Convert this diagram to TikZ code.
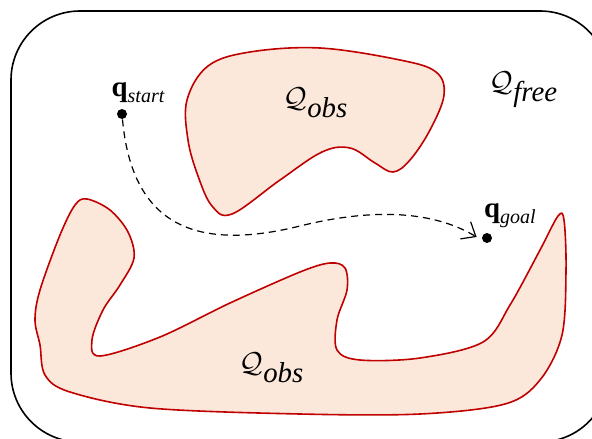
\documentclass[tikz,border=0pt]{standalone}
\usepackage{fontspec}
\setmainfont{Liberation Serif}
\usepackage{xcolor}
\usepackage{tikz}
\usetikzlibrary{arrows.meta, calc}

\definecolor{obsfill}{HTML}{FBE8DB}
\definecolor{obsline}{HTML}{C00000}

\newcommand{\spaceQ}[1]{$\mathcal{Q}_{\textit{#1}}$}
\newcommand{\confq}[1]{\textbf{q}\raisebox{-0.45ex}{\normalsize\itshape #1}}

\begin{document}
\begin{tikzpicture}[
  x=0.5pt, y=-0.5pt,
  every node/.style={font=\rmfamily\Large},
  obstacle/.style={draw=obsline, fill=obsfill, line width=0.8pt},
  frame/.style={draw, line width=0.8pt, rounded corners=34.5pt},
  config/.style={circle, fill, inner sep=0pt, minimum size=5pt},
  path/.style={dashed, dash pattern=on 3.5pt off 2.5pt, line width=0.6pt},
]
\useasboundingbox (0,0) rectangle (592,438);

% ---- Free space boundary ----
\draw[frame] (11,11) rectangle (609,442);

% ---- Obstacles ----
\draw[obstacle] plot[smooth cycle, tension=0.6] coordinates {
  (187,100) (208,66) (250,52) (320,48) (400,60) (436,72) (444,95)
  (430,130) (410,160) (393,172) (375,163) (350,148) (322,152)
  (280,180) (232,214) (212,206) (198,176) (188,140)};

\draw[obstacle] plot[smooth cycle, tension=0.55] coordinates {
  (87,199) (110,210) (128,232) (134,258) (120,285) (103,310) (92,340)
  (100,356) (160,337) (230,303) (300,272) (330,263) (345,268) (347,290)
  (337,320) (337,350) (360,360) (420,358) (483,342) (510,305) (540,250)
  (558,216) (564,220) (566,270) (562,335) (540,380) (505,404) (420,414)
  (300,414) (150,408) (70,392) (45,375) (40,345) (35,320) (40,290)
  (60,235) (75,205)};

% ---- Labels ----
\node (obsA) at (316,103) {\spaceQ{obs}};
\node (obsB) at (272,368) {\spaceQ{obs}};
\node (free) at (524,90) {\spaceQ{free}};

% ---- Start and goal ----
\node[config] (start) at (122,114) {};
\node[config] (goal) at (487,238) {};
\node (startL) at (138,93) {\confq{start}};
\node (goalL) at (510,216) {\confq{goal}};

\draw[path, -{Straight Barb[length=6pt, width=10pt]}] (start) .. controls (132,225) and (195,252) .. (300,226)
  .. controls (385,205) and (440,215) .. ($(goal.west)+(-5,-1)$);

\end{tikzpicture}
\end{document}
